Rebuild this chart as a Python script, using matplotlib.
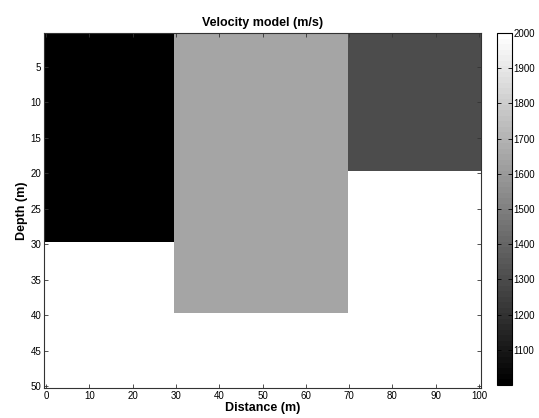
import numpy as np
import matplotlib
matplotlib.use('Agg')
import matplotlib.pyplot as plt

# Block velocity model (m/s)
block_x_start = [0, 30, 70]
block_x_end = [30, 70, 100]
block_depth = [29.75, 39.75, 19.75]
block_velocity = [1000, 1650, 1300]
background_velocity = 2000

x = np.arange(0, 101, 1.0)
z = np.arange(0.5, 50.01, 0.5)
model = np.full((len(z), len(x)), float(background_velocity))
for x0, x1, d, v in zip(block_x_start, block_x_end, block_depth, block_velocity):
    # last block also covers the final grid column
    cols = (x >= x0) & ((x < x1) | ((x1 == x[-1]) & (x == x1)))
    rows = z <= d
    model[np.ix_(rows, cols)] = v

plt.rcParams['font.family'] = ['Liberation Sans', 'DejaVu Sans']

fig = plt.figure(figsize=(5.39, 4.18), dpi=100)
ax = fig.add_axes([0.0816, 0.072, 0.811, 0.849])
cax = fig.add_axes([0.922, 0.079, 0.028, 0.842])

im = ax.imshow(model, cmap=plt.get_cmap('gray', 64), vmin=1000, vmax=2000,
               extent=[-0.5, 100.5, 50.25, 0.25], aspect='auto',
               interpolation='nearest')

ax.set_xticks(np.arange(0, 101, 10))
ax.set_yticks(np.arange(5, 51, 5))
ax.tick_params(direction='in', top=True, right=True, labelsize=7, length=3,
               width=0.6, color='#333333', pad=2)
for spine in ax.spines.values():
    spine.set_linewidth(0.8)
    spine.set_color('#333333')

ax.set_title('Velocity model (m/s)', fontsize=9, fontweight='bold', pad=5)
ax.set_xlabel('Distance (m)', fontsize=9, fontweight='bold', labelpad=1)
ax.set_ylabel('Depth (m)', fontsize=9, fontweight='bold', labelpad=2)

cb = fig.colorbar(im, cax=cax)
cb.set_ticks(np.arange(1100, 2001, 100))
cb.ax.tick_params(direction='in', labelsize=7, length=3, width=0.6, pad=1,
                  left=True, right=True)
cb.outline.set_linewidth(0.8)

fig.savefig('out.png', dpi=100)
